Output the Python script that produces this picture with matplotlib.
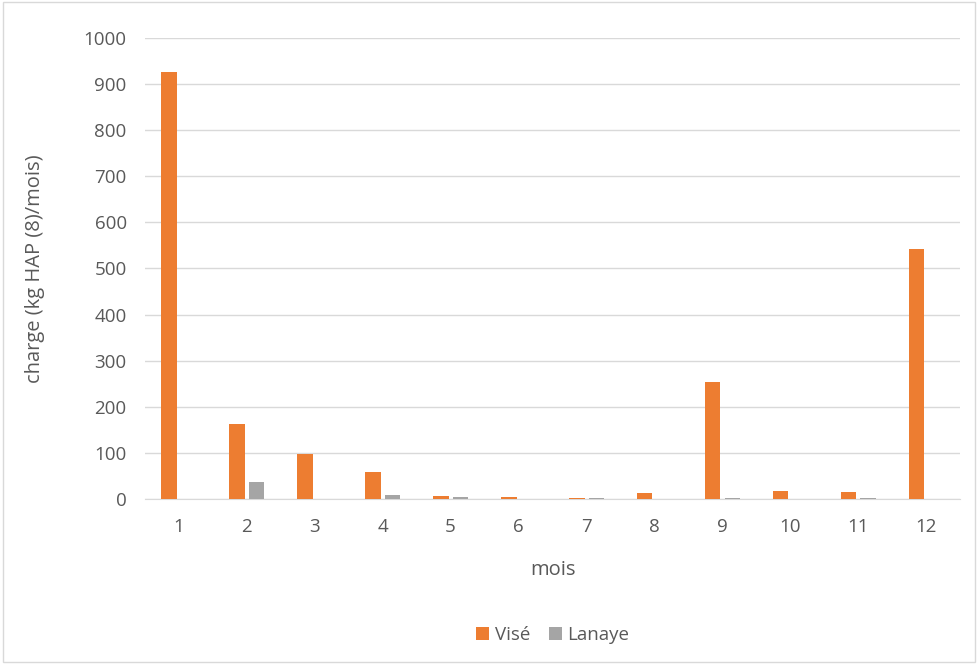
import numpy as np
import matplotlib.pyplot as plt
from matplotlib.patches import Rectangle

plt.rcParams['font.family'] = ['Open Sans', 'DejaVu Sans']

# Données
mois = [1, 2, 3, 4, 5, 6, 7, 8, 9, 10, 11, 12]
vise = [926, 163, 98, 58, 6, 4, 3, 12, 254, 17, 15, 542]
lanaye = [0, 37, 0, 8, 4, 0, 3, 0, 2, 0, 2, 0]

fig = plt.figure(figsize=(9.78, 6.64), dpi=100)
fig.patches.append(Rectangle((0.003, 0.003), 0.994, 0.994, transform=fig.transFigure,
                             fill=False, edgecolor='#d9d9d9', linewidth=1))
ax = fig.add_axes([0.148, 0.2485, 0.834, 0.6945])

x = np.arange(len(mois))
w = 0.23
ax.bar(x - 0.145, vise, w, color='#ed7d31', label='Visé', zorder=3)
ax.bar(x + 0.145, lanaye, w, color='#a5a5a5', label='Lanaye', zorder=3)

ax.set_xlim(-0.5, len(mois) - 0.5)
ax.set_ylim(0, 1000)
ax.set_yticks(np.arange(0, 1001, 100))
ax.set_xticks(x)
ax.set_xticklabels([str(m) for m in mois])
ax.grid(axis='y', color='#d9d9d9', linewidth=1, zorder=0)
for s in ['top', 'right', 'left']:
    ax.spines[s].set_visible(False)
ax.spines['bottom'].set_color('#d9d9d9')
ax.tick_params(length=0, labelsize=13.5, colors='#595959')
ax.tick_params(axis='y', pad=13)
ax.tick_params(axis='x', pad=14)

ax.set_xlabel('mois', fontsize=14.5, color='#595959', labelpad=17)
ax.set_ylabel('charge (kg HAP (8)/mois)', fontsize=14.5, color='#595959', labelpad=28)

ax.legend(loc='center', bbox_to_anchor=(0.5, -0.295), ncol=2, frameon=False,
          fontsize=13.5, labelcolor='#595959', handlelength=0.7, handleheight=0.7,
          handletextpad=0.3, columnspacing=1.0)

plt.savefig('out.png', dpi=100)
